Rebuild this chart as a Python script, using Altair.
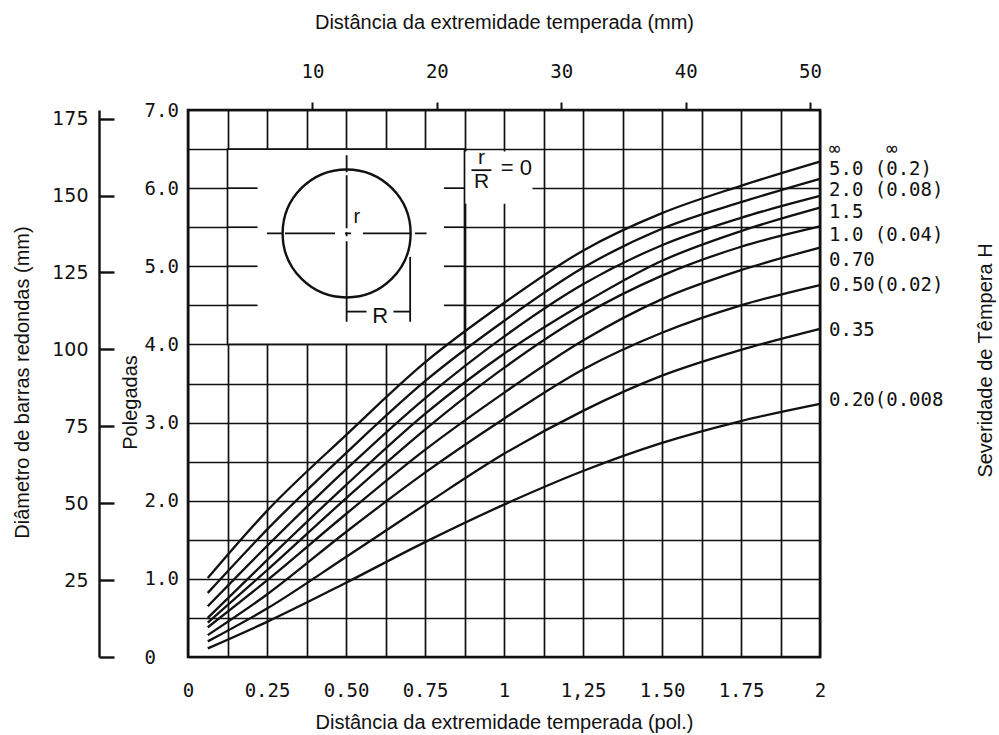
import json
import altair as alt
import pandas as pd

MONO = "DejaVu Sans Mono"
SANS = "Liberation Sans"
DIGITS = "DejaVu Sans"

# ---------------- data ----------------
x_in = [0.0625, 0.25, 0.5, 0.75, 1.0, 1.25, 1.5, 1.75, 2.0]
h_inf = [1.01, 1.87, 2.84, 3.77, 4.53, 5.20, 5.68, 6.03, 6.34]
h_5_0 = [0.82, 1.63, 2.61, 3.53, 4.30, 4.98, 5.48, 5.82, 6.12]
h_2_0 = [0.65, 1.42, 2.40, 3.31, 4.10, 4.77, 5.27, 5.62, 5.90]
h_1_5 = [0.50, 1.24, 2.20, 3.11, 3.88, 4.52, 5.07, 5.45, 5.75]
h_1_0 = [0.44, 1.11, 2.03, 2.91, 3.70, 4.37, 4.88, 5.25, 5.51]
h_0_70 = [0.38, 0.98, 1.83, 2.65, 3.38, 4.05, 4.58, 4.95, 5.24]
h_0_50 = [0.28, 0.80, 1.60, 2.36, 3.05, 3.68, 4.15, 4.50, 4.76]
h_0_35 = [0.20, 0.62, 1.28, 1.95, 2.60, 3.15, 3.60, 3.93, 4.20]
h_0_20 = [0.11, 0.45, 0.95, 1.47, 1.95, 2.38, 2.74, 3.02, 3.24]

series_names = ["inf", "5.0", "2.0", "1.5", "1.0", "0.70", "0.50", "0.35", "0.20"]
series_vals = [h_inf, h_5_0, h_2_0, h_1_5, h_1_0, h_0_70, h_0_50, h_0_35, h_0_20]

NB = "\u00a0"
label_text = [
    NB + "\u221e" + NB * 4 + "\u221e",
    "5.0" + NB + "(0.2)",
    "2.0" + NB + "(0.08)",
    "1.5",
    "1.0" + NB + "(0.04)",
    "0.70",
    "0.50(0.02)",
    "0.35",
    "0.20(0.008",
]
label_y = [6.50, 6.24, 5.97, 5.70, 5.40, 5.08, 4.76, 4.18, 3.29]

# axes
grid_x = [0, 0.125, 0.25, 0.375, 0.5, 0.625, 0.75, 0.875, 1.0, 1.125, 1.25,
          1.375, 1.5, 1.625, 1.75, 1.875, 2.0]
x_label_vals = [0, 0.25, 0.5, 0.75, 1, 1.25, 1.5, 1.75, 2]
x_label_txt = ["0", "0.25", "0.50", "0.75", "1", "1,25", "1.50", "1.75", "2"]
grid_y = [0, 0.5, 1, 1.5, 2, 2.5, 3, 3.5, 4, 4.5, 5, 5.5, 6, 6.5, 7]
y_label_vals = [0, 1, 2, 3, 4, 5, 6, 7]
y_label_txt = ["0", "1.0", "2.0", "3.0", "4.0", "5.0", "6.0", "7.0"]
mm_y_ticks = [0, 25, 50, 75, 100, 125, 150, 175]
mm_y_domain = [0, 177.8]
mm_x_ticks = [10, 20, 30, 40, 50]
mm_x_domain = [0, 50.8]
in_x_domain = [0, 2]
in_y_domain = [0, 7]

# inset (drawing of the bar cross-section)
inset_box_x = [0.125, 0.875]
inset_box_y = [4.0, 6.5]
frac_box_x = [0.875, 1.09]
frac_box_y = [5.8, 6.47]
stub_y = [4.5, 5.0, 5.5, 6.0]
stub_left = [0.125, 0.22]
stub_right = [0.81, 0.875]
circle_xy = [0.502, 5.42]
hline_x = [0.25, 0.755]
vline_y = [6.42, 4.29]
dim_vline = [0.703, 4.29, 5.12]
dim_segs = [[0.502, 0.565], [0.65, 0.703]]
dim_y = 4.42
frac_bar = [0.897, 0.960, 6.23]
inset_texts = [
    {"x": 0.534, "y": 5.63, "t": "r", "s": 20, "a": "center"},
    {"x": 0.608, "y": 4.36, "t": "R", "s": 22, "a": "center"},
    {"x": 0.929, "y": 6.38, "t": "r", "s": 21, "a": "center"},
    {"x": 0.929, "y": 6.08, "t": "R", "s": 21, "a": "center"},
    {"x": 0.99, "y": 6.26, "t": "= 0", "s": 22, "a": "left"},
]

# ---------------- tables ----------------
rows = []
for name, vals in zip(series_names, series_vals):
    for xv, yv in zip(x_in, vals):
        rows.append({"H": name, "x": xv, "y": yv})
curves_df = pd.DataFrame(rows)
labels_df = pd.DataFrame({"x": [x_in[-1]] * len(label_y), "y": label_y, "t": label_text})

W, H = 632, 547
GRID_W = 1.7
BLACK = "#111111"


def lab_expr(vals, txt):
    v = json.dumps(vals)
    return f"indexof({v}, datum.value) >= 0 ? {json.dumps(txt)}[indexof({v}, datum.value)] : ''"


def xs():
    return alt.Scale(domain=in_x_domain, nice=False, zero=False)


def ys():
    return alt.Scale(domain=in_y_domain, nice=False, zero=False)


def X(field="x"):
    return alt.X(f"{field}:Q", scale=xs(), axis=None)


def Y(field="y"):
    return alt.Y(f"{field}:Q", scale=ys(), axis=None)


x_axis = alt.Axis(
    orient="bottom",
    values=grid_x, grid=True, gridColor=BLACK, gridWidth=GRID_W, gridOpacity=1,
    ticks=False, tickSize=0, domain=False,
    labelExpr=lab_expr(x_label_vals, x_label_txt), labelFont=MONO, labelFontSize=19,
    labelColor=BLACK, labelPadding=24, labelFlush=False, labelOverlap=False,
    labelBaseline="top",
    title="Distância da extremidade temperada (pol.)", titleFont=SANS, titleFontSize=20,
    titleFontWeight="normal", titleColor=BLACK, titleY=65, titleBaseline="middle",
)
y_axis = alt.Axis(
    orient="left",
    values=grid_y, grid=True, gridColor=BLACK, gridWidth=GRID_W, gridOpacity=1,
    ticks=False, tickSize=0, domain=False,
    labelExpr=lab_expr(y_label_vals, y_label_txt), labelFont=MONO, labelFontSize=19,
    labelColor=BLACK, labelAlign="left", labelBaseline="middle", labelPadding=44,
    labelFlush=False, labelOverlap=False,
    title="Polegadas", titleFont=SANS, titleFontSize=20, titleFontWeight="normal",
    titleColor=BLACK, titleX=-58, titleY=292, titleAngle=270, titleAlign="center",
    titleBaseline="middle",
)

frac_box = alt.Chart(pd.DataFrame({"x": [frac_box_x[0]], "x2": [frac_box_x[1]],
                                   "y": [frac_box_y[0]], "y2": [frac_box_y[1]]})).mark_rect(
    fill="white", strokeWidth=0
).encode(x=X(), x2="x2:Q", y=Y(), y2="y2:Q")

inset_box = alt.Chart(pd.DataFrame({"x": [inset_box_x[0]], "x2": [inset_box_x[1]],
                                    "y": [inset_box_y[0]], "y2": [inset_box_y[1]]})).mark_rect(
    fill="white", stroke=BLACK, strokeWidth=GRID_W
).encode(x=X(), x2="x2:Q", y=Y(), y2="y2:Q")

stub_rows = []
for yv in stub_y:
    stub_rows.append({"y": yv, "x": stub_left[0], "x2": stub_left[1]})
    stub_rows.append({"y": yv, "x": stub_right[0], "x2": stub_right[1]})
stubs = alt.Chart(pd.DataFrame(stub_rows)).mark_rule(
    color=BLACK, strokeWidth=GRID_W
).encode(x=X(), x2="x2:Q", y=Y())

curves = alt.Chart(curves_df).mark_line(
    color=BLACK, strokeWidth=2.3, interpolate="monotone"
).encode(
    x=alt.X("x:Q", scale=xs(), axis=x_axis),
    y=alt.Y("y:Q", scale=ys(), axis=y_axis),
    detail="H:N",
)

circle = alt.Chart(pd.DataFrame({"x": [circle_xy[0]], "y": [circle_xy[1]]})).mark_point(
    shape="circle", size=16384, filled=False, stroke=BLACK, strokeWidth=2.4, opacity=1
).encode(x=X(), y=Y())

hline = alt.Chart(pd.DataFrame({"x": [hline_x[0]], "x2": [hline_x[1]], "y": [circle_xy[1]]})).mark_rule(
    color=BLACK, strokeWidth=1.8, strokeDash=[15, 3, 50, 10, 6, 12, 48, 4, 40, 0]
).encode(x=X(), x2="x2:Q", y=Y())

vline = alt.Chart(pd.DataFrame({"x": [circle_xy[0]], "y": [vline_y[0]], "y2": [vline_y[1]]})).mark_rule(
    color=BLACK, strokeWidth=1.8, strokeDash=[17, 3, 53, 4, 4, 5, 200, 0]
).encode(x=X(), y=Y(), y2="y2:Q")

dim_v = alt.Chart(pd.DataFrame({"x": [dim_vline[0]], "y": [dim_vline[1]], "y2": [dim_vline[2]]})).mark_rule(
    color=BLACK, strokeWidth=1.8
).encode(x=X(), y=Y(), y2="y2:Q")

dim_h = alt.Chart(pd.DataFrame({"x": [s[0] for s in dim_segs], "x2": [s[1] for s in dim_segs],
                                "y": [dim_y] * len(dim_segs)})).mark_rule(
    color=BLACK, strokeWidth=1.8
).encode(x=X(), x2="x2:Q", y=Y())

fbar = alt.Chart(pd.DataFrame({"x": [frac_bar[0]], "x2": [frac_bar[1]], "y": [frac_bar[2]]})).mark_rule(
    color=BLACK, strokeWidth=1.8
).encode(x=X(), x2="x2:Q", y=Y())

itexts = []
for d in inset_texts:
    itexts.append(
        alt.Chart(pd.DataFrame([d])).mark_text(
            font=SANS, fontSize=d["s"], color=BLACK, align=d["a"], baseline="middle"
        ).encode(x=X(), y=Y(), text="t:N")
    )

curve_labels = alt.Chart(labels_df).mark_text(
    font=MONO, fontSize=19, color=BLACK, align="left", baseline="middle", dx=9
).encode(x=X(), y=Y(), text="t:N")

# outer millimetre axis on the left (diameter of round bars)
mm_y_layer = alt.Chart(pd.DataFrame({"mm": mm_y_ticks})).mark_point(opacity=0).encode(
    y=alt.Y("mm:Q", scale=alt.Scale(domain=mm_y_domain, nice=False, zero=False),
            axis=alt.Axis(
                orient="right", offset=-(W + 89), values=mm_y_ticks, grid=False,
                tickSize=15, tickWidth=2.4, tickColor=BLACK, domainWidth=2.4, domainColor=BLACK,
                labelPadding=-26, labelAlign="right", labelBaseline="middle",
                labelExpr="datum.value == 0 ? '' : datum.label",
                labelFont=DIGITS, labelFontSize=19, labelColor=BLACK, labelFlush=False,
                labelOverlap=False,
                title="Diâmetro de barras redondas (mm)", titleFont=SANS, titleFontSize=20,
                titleFontWeight="normal", titleColor=BLACK, titleX=-77, titleY=272,
                titleAngle=270, titleAlign="center", titleBaseline="middle",
            ))
)

# top millimetre axis (distance from quenched end)
mm_x_layer = alt.Chart(pd.DataFrame({"mm": mm_x_ticks})).mark_point(opacity=0).encode(
    x=alt.X("mm:Q", scale=alt.Scale(domain=mm_x_domain, nice=False, zero=False),
            axis=alt.Axis(
                orient="top", values=mm_x_ticks, grid=False, domain=False,
                tickSize=8, tickWidth=2, tickColor=BLACK,
                labelPadding=21, labelFont=MONO, labelFontSize=19, labelColor=BLACK,
                labelFlush=False, labelOverlap=False,
                title="Distância da extremidade temperada (mm)", titleFont=SANS,
                titleFontSize=20, titleFontWeight="normal", titleColor=BLACK,
                titleY=-88, titleBaseline="middle",
            ))
)

# right-hand title (quench severity)
right_layer = alt.Chart(pd.DataFrame({"y": label_y})).mark_point(opacity=0).encode(
    y=alt.Y("y:Q", scale=ys(),
            axis=alt.Axis(
                orient="right", labels=False, ticks=False, domain=False, grid=False,
                title="Severidade de Têmpera H", titleFont=SANS, titleFontSize=20,
                titleFontWeight="normal", titleColor=BLACK, titleX=165, titleY=250,
                titleAngle=270, titleAlign="center", titleBaseline="middle",
            ))
)

# white inset boxes first, then the curves on top of them (axes belong to the curve layer)
chart = alt.layer(
    frac_box, inset_box, stubs, curves, circle, hline, vline, dim_v, dim_h, fbar,
    *itexts, curve_labels, mm_y_layer, mm_x_layer, right_layer
).resolve_scale(
    x="independent", y="independent"
).properties(
    width=W, height=H,
    autosize=alt.AutoSizeParams(type="none"),
    padding={"left": 188, "top": 110, "right": 179, "bottom": 78},
    background="white",
).configure_view(stroke=BLACK, strokeWidth=2.6)

chart.save("out.html", embed_options={"renderer": "svg", "actions": False})
